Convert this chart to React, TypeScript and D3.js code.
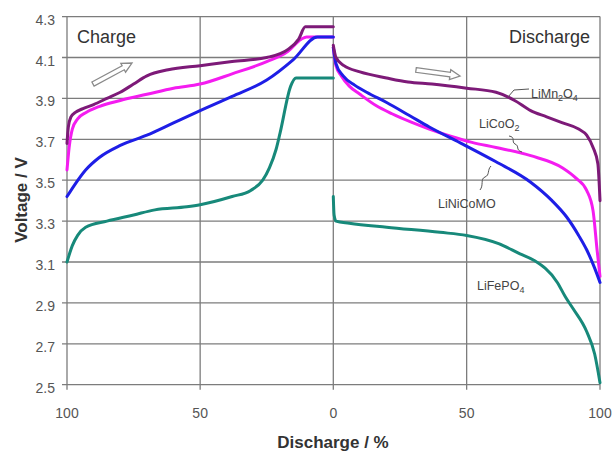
import React from "react";
import * as d3 from "d3";

// [discharge %, voltage] pairs
const chargeLiMn2O4: [number, number][] = [
  [100, 3.68], [99.5, 3.76], [98.5, 3.81], [97, 3.83], [94, 3.85], [90, 3.87],
  [85, 3.9], [80, 3.93], [75, 3.97], [70, 4.01], [62, 4.04], [50, 4.06],
  [38, 4.08], [25, 4.1], [17, 4.14], [13, 4.19], [10.5, 4.25], [0, 4.25],
];
const chargeLiCoO2: [number, number][] = [
  [100, 3.55], [99.2, 3.66], [98, 3.75], [96, 3.8], [93, 3.83], [88, 3.86],
  [80, 3.89], [70, 3.92], [60, 3.95], [50, 3.97], [38, 4.02], [25, 4.08],
  [17, 4.13], [12, 4.19], [10, 4.2], [0, 4.2],
];
const chargeLiNiCoMO: [number, number][] = [
  [100, 3.42], [97, 3.48], [93, 3.55], [88, 3.61], [80, 3.67], [70, 3.72],
  [60, 3.78], [50, 3.84], [38, 3.91], [25, 3.99], [15, 4.09], [6, 4.2], [0, 4.2],
];
const chargeLiFePO4: [number, number][] = [
  [100, 3.1], [98, 3.18], [96, 3.23], [93, 3.27], [85, 3.3], [75, 3.33],
  [67, 3.355], [55, 3.37], [50, 3.38], [38, 3.42], [31, 3.45], [26.5, 3.5],
  [24, 3.56], [21.5, 3.65], [20, 3.73], [16, 3.96], [14, 4.0], [0, 4.0],
];

const dischargeLiMn2O4: [number, number][] = [
  [0, 4.16], [1, 4.1], [4, 4.06], [10, 4.03], [20, 4.0], [28, 3.98],
  [37, 3.97], [50, 3.95], [61, 3.93], [68, 3.89], [74, 3.84], [80, 3.81],
  [86, 3.78], [92, 3.75], [95, 3.72], [97.4, 3.66], [99.2, 3.58], [100, 3.4],
];
const dischargeLiCoO2: [number, number][] = [
  [0, 4.15], [1, 4.06], [3, 4.01], [6, 3.96], [10, 3.92], [16, 3.865],
  [22, 3.825], [29, 3.785], [36, 3.75], [44, 3.715], [52, 3.685], [61, 3.66],
  [74, 3.62], [86, 3.56], [91, 3.51], [95, 3.45], [97.4, 3.35], [98.9, 3.16],
  [100, 3.03],
];
const dischargeLiNiCoMO: [number, number][] = [
  [0, 4.15], [1, 4.07], [3.7, 4.01], [8, 3.965], [12.5, 3.93], [20, 3.88],
  [28.7, 3.815], [36, 3.76], [48.7, 3.675], [61, 3.59], [74, 3.49], [82, 3.4],
  [87.5, 3.32], [92, 3.23], [95, 3.16], [98, 3.07], [100, 3.0],
];
const dischargeLiFePO4: [number, number][] = [
  [0, 3.42], [0.3, 3.33], [1, 3.3], [6, 3.29], [20, 3.27], [40, 3.245],
  [50, 3.23], [62, 3.19], [70, 3.14], [75, 3.11], [84, 3.0], [87, 2.93],
  [90, 2.87], [95, 2.76], [98, 2.65], [100, 2.51],
];

const voltTicks = [2.5, 2.7, 2.9, 3.1, 3.3, 3.5, 3.7, 3.9, 4.1, 4.3];
const chargeTicks = [100, 50, 0];
const dischargeTicks = [50, 100];

const colors = {
  mn: "#7d1a78",
  co: "#f41cf0",
  ni: "#1e1ee6",
  fe: "#17897a",
};

const left = 67;
const mid = 333.3;
const right = 600;
const top = 16.6;
const bottom = 384.7;

const App: React.FC = () => {
  const y = d3.scaleLinear().domain([2.5, 4.3]).range([bottom, top]);
  const xc = d3.scaleLinear().domain([100, 0]).range([left, mid]);
  const xd = d3.scaleLinear().domain([0, 100]).range([mid, right]);

  const mk = (xs: d3.ScaleLinear<number, number>) =>
    d3
      .line<[number, number]>()
      .x((d) => xs(d[0]))
      .y((d) => y(d[1]))
      .curve(d3.curveMonotoneX);
  const lc = mk(xc);
  const ld = mk(xd);

  const series = [
    { c: chargeLiFePO4, d: dischargeLiFePO4, col: colors.fe },
    { c: chargeLiCoO2, d: dischargeLiCoO2, col: colors.co },
    { c: chargeLiNiCoMO, d: dischargeLiNiCoMO, col: colors.ni },
    { c: chargeLiMn2O4, d: dischargeLiMn2O4, col: colors.mn },
  ];

  // hollow block arrow from (x1,y1) to (x2,y2)
  const arrow = (x1: number, y1: number, x2: number, y2: number) => {
    const L = Math.hypot(x2 - x1, y2 - y1);
    const a = (Math.atan2(y2 - y1, x2 - x1) * 180) / Math.PI;
    const pts = [
      [0, -2.3], [L - 10, -2.3], [L - 10, -5], [L, 0], [L - 10, 5], [L - 10, 2.3], [0, 2.3],
    ];
    return (
      <polygon
        transform={`translate(${x1},${y1}) rotate(${a})`}
        points={pts.map((p) => p.join(",")).join(" ")}
        fill="#fff"
        stroke="#8a8a8a"
        strokeWidth={1.3}
      />
    );
  };

  const gridCol = "#7c7c7c";
  const tickFont = "Liberation Sans, Arial, sans-serif";

  return (
    <svg
      width={613}
      height={455}
      style={{ position: "absolute", left: 0, top: 0, background: "#fff" }}
      fontFamily={tickFont}
    >
      {/* horizontal grid */}
      {voltTicks.map((v) => (
        <g key={v}>
          <line x1={left - 5} x2={right} y1={y(v)} y2={y(v)} stroke={gridCol} strokeWidth={1.3} />
          <text x={55} y={y(v) + 8} textAnchor="end" fontSize={14} fill="#555">
            {v.toFixed(1)}
          </text>
        </g>
      ))}
      {/* vertical grid */}
      {chargeTicks.map((p) => (
        <g key={"c" + p}>
          <line x1={xc(p)} x2={xc(p)} y1={top} y2={bottom + 5} stroke={gridCol} strokeWidth={1.3} />
          <text x={xc(p)} y={418} textAnchor="middle" fontSize={14} fill="#555">
            {p}
          </text>
        </g>
      ))}
      {dischargeTicks.map((p) => (
        <g key={"d" + p}>
          <line x1={xd(p)} x2={xd(p)} y1={top} y2={bottom + 5} stroke={gridCol} strokeWidth={1.3} />
          <text x={xd(p)} y={418} textAnchor="middle" fontSize={14} fill="#555">
            {p}
          </text>
        </g>
      ))}

      {/* curves */}
      {series.map((s, i) => (
        <g key={i} fill="none" stroke={s.col} strokeWidth={3} strokeLinejoin="round" strokeLinecap="round">
          <path d={lc(s.c) || ""} />
          <path d={ld(s.d) || ""} />
        </g>
      ))}

      {/* corner labels */}
      <text x={77} y={43} fontSize={18} fill="#333">Charge</text>
      <text x={590} y={43} fontSize={18} fill="#333" textAnchor="end">Discharge</text>

      {arrow(93, 84, 132, 63)}
      {arrow(416, 70, 460, 76)}

      {/* series labels */}
      <g fontSize={12.5} fill="#444">
        <text x={531} y={98}>
          LiMn<tspan fontSize={9} dy={3}>2</tspan>
          <tspan dy={-3}>O</tspan>
          <tspan fontSize={9} dy={3}>4</tspan>
        </text>
        <text x={479} y={128}>
          LiCoO<tspan fontSize={9} dy={3}>2</tspan>
        </text>
        <text x={438} y={208}>LiNiCoMO</text>
        <text x={477} y={290}>
          LiFePO<tspan fontSize={9} dy={3}>4</tspan>
        </text>
      </g>
      <g fill="none" stroke="#555" strokeWidth={1}>
        <path d="M508,97 L514,90 L529,89" />
        <path d="M509,136 C516,137 511,142 515,144 C520,146 515,150 522,152" />
        <path d="M491,166 C487,170 490,175 485,177 C480,179 484,185 480,190" />
      </g>

      {/* axis titles */}
      <text
        transform="translate(27,200) rotate(-90)"
        textAnchor="middle"
        fontSize={17}
        fontWeight="bold"
        fill="#333"
      >
        Voltage / V
      </text>
      <text x={333} y={448} textAnchor="middle" fontSize={17} fontWeight="bold" fill="#333">
        Discharge / %
      </text>
    </svg>
  );
};

export default App;
